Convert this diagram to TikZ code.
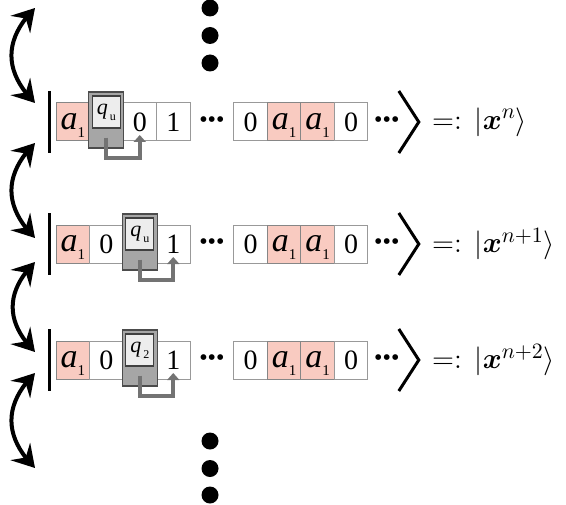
\documentclass[tikz,border=0pt]{standalone}
\usepackage{amsmath,amssymb}
\usepackage{fontspec}
\setmainfont{Liberation Serif}
\usepackage{tikz}
\usetikzlibrary{arrows.meta,positioning,bending}

\definecolor{symred}{RGB}{249,203,193}
\newcommand{\tsym}{{\fontsize{17}{17}\selectfont\itshape a}\raisebox{-4pt}[0pt][0pt]{\fontsize{7.5}{8}\selectfont 1}}

\begin{document}
\begin{tikzpicture}[
  x=0.5pt, y=0.5pt,
  cell/.style={rectangle, draw=gray!80, line width=0.5pt,
               minimum width=16.75pt, minimum height=19pt,
               inner sep=0pt, outer sep=0pt, font=\fontsize{14}{16}\selectfont},
  sym/.style={cell, fill=symred, draw=gray!95},
  gap/.style={inner sep=0pt, minimum width=21.5pt, font=\fontsize{12}{12}\selectfont},
  headbox/.style={rectangle, draw=black!70, fill=black!35, line width=0.6pt,
                  minimum width=17.5pt, minimum height=28pt, inner sep=0pt},
  statebox/.style={rectangle, draw=black!75, fill=black!7, line width=0.6pt,
                   minimum width=14pt, minimum height=16pt, inner sep=0pt,
                   font=\fontsize{11}{11}\selectfont},
  move/.style={draw=black!55, line width=2pt, -{Triangle[width=6pt,length=3.5pt]}},
  flip/.style={line width=2pt,
               {Stealth[length=11pt,width=13pt,inset=4pt,flex]}-{Stealth[length=11pt,width=13pt,inset=4pt,flex]}},
  ket/.style={font=\fontsize{15.5}{17}\selectfont, inner sep=0pt}
]
\useasboundingbox (0,0) rectangle (566,504);

% tape rows
\foreach \r/\y/\h/\g/\q/\k in {1/382/2/3/u/n, 2/260/3/4/u/n+1, 3/144/3/4/2/n+2} {
  \node[sym] (c\r-1) at (72.75,\y) {\tsym};
  \node[cell, right=0pt of c\r-1] (c\r-2) {\ifnum\h=2 \else 0\fi};
  \node[cell, right=0pt of c\r-2] (c\r-3) {\ifnum\h=3 \else 0\fi};
  \node[cell, right=0pt of c\r-3] (c\r-4) {1};
  \node[gap, right=0pt of c\r-4] (g\r) {•••};
  \node[cell, right=0pt of g\r] (c\r-5) {0};
  \node[sym, right=0pt of c\r-5] (c\r-6) {\tsym};
  \node[sym, right=0pt of c\r-6] (c\r-7) {\tsym};
  \node[cell, right=0pt of c\r-7] (c\r-8) {0};
  \node[gap, minimum width=0pt, right=3pt of c\r-8] (m\r) {•••};
  \node[ket, right=32pt of c\r-8] (k\r) {$=:\,|\boldsymbol{x}^{\k}\rangle$};
  % bra bar and closing bracket
  \draw[line width=1.5pt] ([shift={(-7,31)}]c\r-1.west) -- ([shift={(-7,-31)}]c\r-1.west);
  \draw[line width=1.5pt, line join=miter] ([shift={(31,31)}]c\r-8.east)
    -- ([shift={(51,0)}]c\r-8.east) -- ([shift={(31,-31)}]c\r-8.east);
  % head
  \node[headbox, yshift=1pt] (h\r) at (c\r-\h) {};
  \node[statebox, below=2pt of h\r.north] (s\r)
    {\textit{q}\raisebox{-3pt}[0pt][0pt]{\fontsize{6}{6}\selectfont\,\q}};
  \draw[move] ([yshift=5.5pt]h\r.south) -- ++(0,-20) -| ([yshift=3pt]c\r-\g.south);
}

% vertical dots
\foreach \yy in {496,468.5,441,63,35.5,9}
  \fill (210,\yy) circle[radius=4.25pt];

% transitions
\foreach \i/\t/\b in {1/496/401, 2/361/266, 3/242/152, 4/131/36} {
  \coordinate (up\i) at (35,\t);
  \coordinate (dn\i) at (35,\b);
  \draw[flip] (up\i) to[out=-135, in=135, looseness=1.2] (dn\i);
}
\end{tikzpicture}
\end{document}
